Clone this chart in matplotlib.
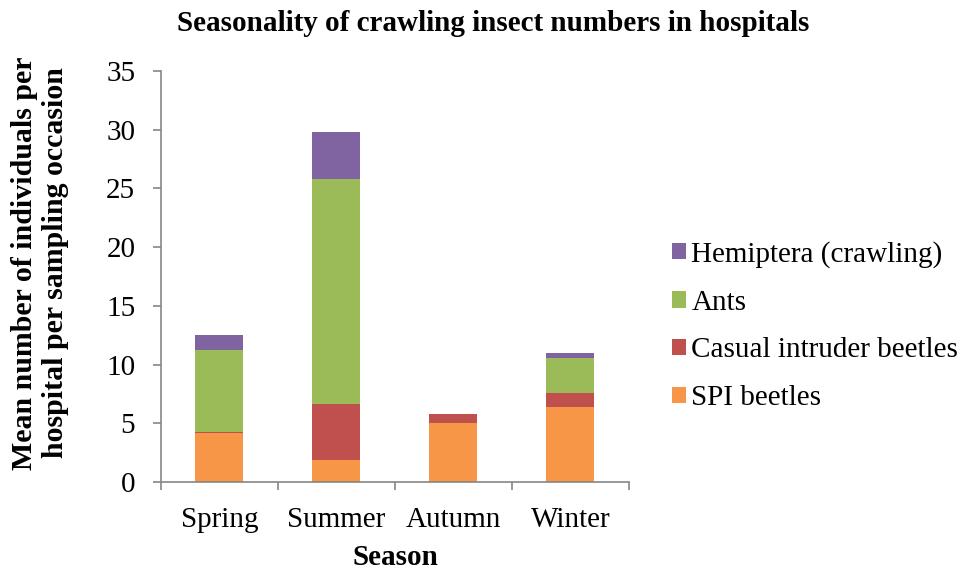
import matplotlib
matplotlib.use("Agg")
import matplotlib.pyplot as plt
import numpy as np
from matplotlib.patches import Patch

seasons = ["Spring", "Summer", "Autumn", "Winter"]
spi = [4.15, 1.87, 5.05, 6.39]
casual = [0.08, 4.73, 0.75, 1.2]
ants = [7.0, 19.2, 0.0, 3.0]
hemiptera = [1.25, 4.0, 0.0, 0.4]
series_names = ["SPI beetles", "Casual intruder beetles", "Ants", "Hemiptera (crawling)"]
colors = ["#F79646", "#C0504D", "#9BBB59", "#8064A2"]

plt.rcParams['font.family'] = ['Liberation Serif', 'DejaVu Serif']

fig = plt.figure(figsize=(9.65, 5.71), dpi=100)
ax = fig.add_axes([0.1668, 0.1559, 0.4850, 0.7198])

x = np.arange(len(seasons))
bottom = np.zeros(len(seasons))
handles = []
for vals, name, c in zip([spi, casual, ants, hemiptera], series_names, colors):
    ax.bar(x, vals, 0.41, bottom=bottom, color=c, label=name, edgecolor='none')
    bottom += np.array(vals)
    handles.append(Patch(facecolor=c, label=name))

ax.set_xlim(-0.5, 3.5)
ax.set_ylim(0, 35)
ax.set_yticks(range(0, 36, 5))
ax.set_xticks(x)
ax.set_xticklabels(seasons, fontsize=21)
ax.tick_params(axis='x', length=0, pad=18)
ax.set_xticks(np.arange(-0.5, 4, 1), minor=True)
ax.tick_params(axis='x', which='minor', length=6, color='#868686', width=1.2)
ax.tick_params(axis='y', labelsize=21, length=6, color='#868686', width=1.2, pad=12.5)
for s in ['top', 'right']:
    ax.spines[s].set_visible(False)
for s in ['left', 'bottom']:
    ax.spines[s].set_color('#868686')
    ax.spines[s].set_linewidth(1.2)

ax.set_xlabel("Season", fontsize=21, fontweight='bold', labelpad=8)
ax.set_ylabel("Mean number of individuals per\nhospital per sampling occasion", fontsize=21.5,
              fontweight='bold', linespacing=1.2)
ax.yaxis.set_label_coords(-0.197, 0.533)
fig.text(0.511, 0.958, "Seasonality of crawling insect numbers in hospitals", ha='center', va='center',
         fontsize=21, fontweight='bold')

leg = fig.legend(handles=handles[::-1], loc='center left', bbox_to_anchor=(0.696, 0.429),
                 frameon=False, fontsize=21, handlelength=0.48, handleheight=0.5,
                 handletextpad=0.2, labelspacing=0.75, borderpad=0, borderaxespad=0)

fig.savefig("out.png", dpi=100)
